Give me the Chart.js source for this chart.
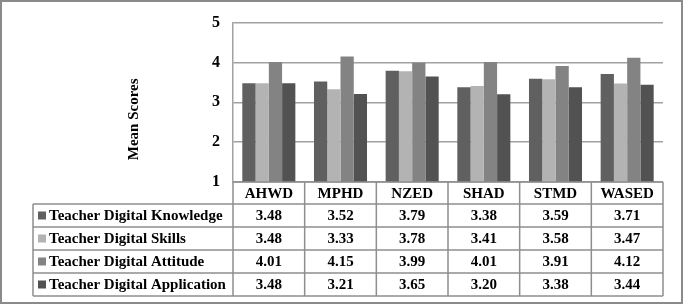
<!DOCTYPE html>
<html><head><meta charset="utf-8">
<script src="https://cdn.jsdelivr.net/npm/chart.js@4"></script>
<style>html,body{margin:0;padding:0;background:#fff;}#wrap{width:685px;height:307px;position:relative;}</style>
</head><body><div id="wrap"><canvas id="c" width="685" height="307"></canvas></div>
<script>
const categories = ["AHWD","MPHD","NZED","SHAD","STMD","WASED"];
const seriesNames = ["Teacher Digital Knowledge","Teacher Digital Skills","Teacher Digital Attitude","Teacher Digital Application"];
const knowledge = [3.48,3.52,3.79,3.38,3.59,3.71];
const skills = [3.48,3.33,3.78,3.41,3.58,3.47];
const attitude = [4.01,4.15,3.99,4.01,3.91,4.12];
const application = [3.48,3.21,3.65,3.20,3.38,3.44];
const yTicks = [1,2,3,4,5];
const colors = ["#606060","#b3b3b3","#838383","#525252"];
const allSeries = [knowledge, skills, attitude, application];
const FONT = '"Liberation Serif","Times New Roman",serif';

const tablePlugin = {
  id:'tablePlugin',
  afterDraw(chart){
    const ctx = chart.ctx;
    const x = chart.scales.x, ca = chart.chartArea;
    const left = ca.left, right = ca.right;
    const colW = (right-left)/categories.length;
    const top = ca.bottom;
    const headH = 22, rowH = 23;
    const labelLeft = 33;
    ctx.save();
    ctx.strokeStyle = '#8e8e8e';
    ctx.lineWidth = 1.5;
    ctx.beginPath();
    ctx.moveTo(left, top); ctx.lineTo(right, top);
    for (let i=0;i<=categories.length;i++){
      const xx = left + i*colW;
      ctx.moveTo(xx, top); ctx.lineTo(xx, top+headH+rowH*seriesNames.length);
    }
    ctx.moveTo(labelLeft, top+headH); ctx.lineTo(right, top+headH);
    for (let r=1;r<=seriesNames.length;r++){
      const yy = top+headH+r*rowH;
      ctx.moveTo(labelLeft, yy); ctx.lineTo(right, yy);
    }
    ctx.moveTo(labelLeft, top+headH); ctx.lineTo(labelLeft, top+headH+rowH*seriesNames.length);
    ctx.stroke();
    ctx.fillStyle = '#000';
    ctx.font = 'bold 15px '+FONT;
    ctx.textAlign='center'; ctx.textBaseline='middle';
    categories.forEach((c,i)=>{
      ctx.fillText(c, x.getPixelForValue(i), top+headH/2+1);
    });
    seriesNames.forEach((s,r)=>{
      const cy = top+headH+r*rowH+rowH/2+1;
      ctx.fillStyle = colors[r];
      ctx.fillRect(labelLeft+5, cy-5, 8, 8);
      ctx.fillStyle = '#000';
      ctx.textAlign='left';
      ctx.fillText(s, labelLeft+16, cy);
      ctx.textAlign='center';
      allSeries[r].forEach((v,i)=>{
        ctx.fillText(v.toFixed(2), x.getPixelForValue(i), cy);
      });
    });
    ctx.save();
    ctx.translate(134, (ca.top+ca.bottom)/2 + 17);
    ctx.rotate(-Math.PI/2);
    ctx.font = 'bold 15px '+FONT;
    ctx.textAlign='center'; ctx.textBaseline='middle';
    ctx.fillText('Mean Scores', 0, 0);
    ctx.restore();
    ctx.strokeStyle = '#8a8a8a';
    ctx.lineWidth = 2;
    ctx.strokeRect(1,1,681,302);
    ctx.restore();
  }
};

new Chart(document.getElementById('c'), {
  type:'bar',
  data:{
    labels: categories,
    datasets: seriesNames.map((n,i)=>({label:n, data:allSeries[i], backgroundColor:colors[i], borderWidth:0, categoryPercentage:0.74, barPercentage:1.0}))
  },
  options:{
    responsive:false, animation:false,
    layout:{padding:{left:0,right:22,top:21,bottom:125}},
    plugins:{legend:{display:false}, tooltip:{enabled:false}},
    scales:{
      x:{display:false},
      y:{
        min:1,max:5,
        afterFit(s){ s.width = 233; },
        afterBuildTicks(s){ s.ticks = yTicks.map(v=>({value:v})); },
        ticks:{stepSize:1, color:'#000', font:{family:FONT, size:16, weight:'bold'}, padding:13},
        grid:{color:'#a2a2a2', lineWidth:1.5, drawTicks:false},
        border:{color:'#a2a2a2', width:1.5}
      }
    }
  },
  plugins:[tablePlugin]
});
</script></body></html>
